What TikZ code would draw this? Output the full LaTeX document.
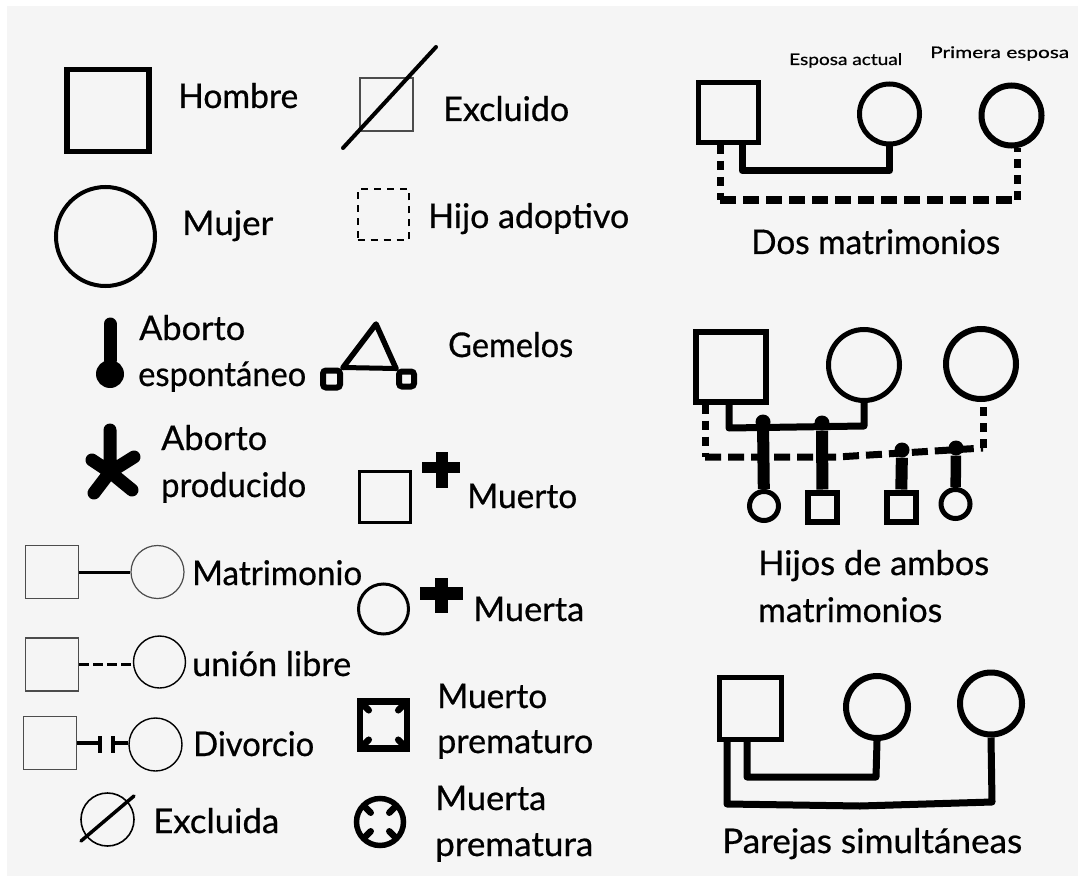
\documentclass[tikz,border=0pt]{standalone}
\usepackage{fontspec}
\usepackage{graphicx}
\usetikzlibrary{calc}
\setmainfont[FakeBold=0.6]{Lato}
\newcommand\wt[2]{\resizebox{#1pt}{\height}{#2}}
\begin{document}
\begin{tikzpicture}[x=1pt,y=-1pt,
  lab/.style={anchor=base west,inner sep=0pt,font=\fontsize{34}{34}\selectfont,text=black},
  small/.style={anchor=base west,inner sep=0pt,font=\fontsize{16}{16}\selectfont},
  sq/.style={draw=black,rectangle,inner sep=0pt,minimum size=#1},
  ci/.style={draw=black,circle,inner sep=0pt,minimum size=#1},
  thin1/.style={line width=1.2pt,draw=black!70},
  link/.style={line width=7pt,line join=round},
  dlink/.style={line width=7pt,dash pattern=on 16pt off 7pt,line join=miter},
  dvert/.style={line width=7pt,dash pattern=on 9pt off 7pt},
  stem/.style={line width=12pt},
  dot/.style={fill=black,circle,inner sep=0pt,minimum size=15pt},
  blob/.style={line width=13pt,line cap=round,line join=round},
  tick/.style={line width=6.5pt,line cap=round}]
\useasboundingbox (0,0) rectangle (1078,877);
\fill[white] (0,0) rectangle (1078,877);
\fill[black!4] (7,6) rectangle (1078,876);
% left column
\node[sq=82pt,line width=5.5pt] (hombre) at (108,110.5) {};
\node[lab] (thombre) at (178,108) {\wt{120}{Hombre}};
\node[ci=99pt,line width=4pt] (mujer) at (105.5,236.5) {};
\node[lab] (tmujer) at (182,235) {\wt{91}{Mujer}};
% abortions
\node[dot,minimum size=28pt] (ae) at (110,374) {};
\coordinate (aet) at (110,324);
\draw[blob] (aet) -- (ae);
\node[lab] (tae1) at (139,340) {\wt{106}{Aborto}};
\node[lab] (tae2) at (138,386) {\wt{168}{espontáneo}};
\coordinate (ap) at (110,472);
\coordinate (apt) at (110,430);
\coordinate (ap1) at (92,460);
\coordinate (ap2) at (134,457);
\coordinate (ap3) at (94,493);
\coordinate (ap4) at (132,490);
\draw[blob] (apt) -- (ap) (ap1) -- (ap) (ap2) -- (ap) (ap3) -- (ap) (ap4) -- (ap);
\node[lab] (tap1) at (161,450) {\wt{106}{Aborto}};
\node[lab] (tap2) at (161,497) {\wt{145}{producido}};
% couples
\node[sq=53pt,thin1] (m1) at (52,572) {};
\node[ci=53pt,thin1] (m2) at (157.5,572) {};
\draw[line width=3pt] (m1) -- (m2);
\node[lab] (tm) at (192,585) {\wt{170}{Matrimonio}};
\node[sq=53pt,thin1] (u1) at (52,664.5) {};
\node[ci=52pt,line width=1.4pt,draw=black] (u2) at (159.5,662) {};
\coordinate (um) at (100,664);
\draw[line width=3pt,dash pattern=on 10pt off 4pt] (u1.east |- um) -- (u2.west |- um);
\node[lab] (tu) at (192,676) {\wt{159}{unión libre}};
\node[sq=53pt,thin1] (d1) at (50,743) {};
\node[ci=53pt,line width=1.4pt,draw=black] (d2) at (155.5,744.5) {};
\coordinate (dm1) at (100,743);
\coordinate (dm2) at (113,743);
\draw[line width=3.5pt] (d1.east |- dm1) -- (dm1) (dm2) -- (d2.west |- dm2);
\draw[line width=4.5pt] (100,736) -- (dm1) -- (100,753) (113,736) -- (dm2) -- (113,753);
\node[lab] (td) at (193,756) {\wt{121}{Divorcio}};
\node[ci=53pt,line width=1.6pt] (ex) at (107.5,819.5) {};
\coordinate (ex1) at (81,841);
\coordinate (ex2) at (134,796);
\draw[line width=3.5pt,line cap=round] (ex1) -- (ex2);
\node[lab] (tex) at (153,833) {\wt{126}{Excluida}};
% middle column
\node[sq=53pt,thin1] (xo) at (386.5,104.5) {};
\coordinate (xo1) at (343,148);
\coordinate (xo2) at (436,47);
\draw[line width=4pt,line cap=round] (xo1) -- (xo2);
\node[lab] (txo) at (443,121) {\wt{126}{Excluido}};
\node[sq=51pt,line width=2pt,dash pattern=on 7pt off 6pt] (ha) at (383,215) {};
\node[lab] (tha) at (428,228) {\wt{201}{Hijo adoptivo}};
% twins
\coordinate (gt) at (376,324);
\node[sq=17pt,line width=6pt,rounded corners=3pt] (g1) at (331.5,379) {};
\node[sq=15pt,line width=6pt,rounded corners=3pt] (g2) at (406.5,379) {};
\draw[line width=5.5pt,line join=round,line cap=round] (g1.north east) -- (gt) -- (g2.north west);
\draw[line width=5pt] (g1.north east) -- (g2.north west);
\node[lab] (tg) at (448,357) {\wt{125}{Gemelos}};
% deaths
\node[sq=51pt,line width=3.5pt] (mo) at (385,497) {};
\coordinate (mo1) at (422,467.5);
\coordinate (mo2) at (460,467.5);
\coordinate (mo3) at (442,452);
\coordinate (mo4) at (442,488);
\draw[line width=11.5pt] (mo1) -- (mo2) (mo3) -- (mo4);
\node[lab] (tmo) at (467,508) {\wt{110}{Muerto}};
\node[ci=50pt,line width=3pt] (ma) at (383.5,609) {};
\coordinate (ma1) at (420,593.5);
\coordinate (ma2) at (463,593.5);
\coordinate (ma3) at (441.5,578);
\coordinate (ma4) at (441.5,613);
\draw[line width=13pt] (ma1) -- (ma2) (ma3) -- (ma4);
\node[lab] (tma) at (473,621) {\wt{111}{Muerta}};
\node[sq=47pt,line width=6.5pt] (mp) at (383.5,725) {};
\draw[tick] ($(mp.center)!0.85!(mp.north west)$) -- ($(mp.center)!0.55!(mp.north west)$)
  ($(mp.center)!0.85!(mp.north east)$) -- ($(mp.center)!0.55!(mp.north east)$)
  ($(mp.center)!0.85!(mp.south west)$) -- ($(mp.center)!0.55!(mp.south west)$)
  ($(mp.center)!0.85!(mp.south east)$) -- ($(mp.center)!0.55!(mp.south east)$);
\node[lab] (tmp1) at (437,708) {\wt{110}{Muerto}};
\node[lab] (tmp2) at (437,753) {\wt{156}{prematuro}};
\node[ci=47pt,line width=5.5pt] (fp) at (380,822) {};
\draw[tick] ($(fp.center)!0.85!(fp.north west)$) -- ($(fp.center)!0.5!(fp.north west)$)
  ($(fp.center)!0.85!(fp.north east)$) -- ($(fp.center)!0.5!(fp.north east)$)
  ($(fp.center)!0.85!(fp.south west)$) -- ($(fp.center)!0.5!(fp.south west)$)
  ($(fp.center)!0.85!(fp.south east)$) -- ($(fp.center)!0.5!(fp.south east)$);
\node[lab] (tfp1) at (435,810) {\wt{111}{Muerta}};
\node[lab] (tfp2) at (435,856) {\wt{158}{prematura}};
% Dos matrimonios
\node[sq=60pt,line width=5pt] (a0) at (728.5,112.5) {};
\node[ci=60pt,line width=5pt] (a1) at (889.5,114) {};
\node[ci=60pt,line width=6pt] (a2) at (1011.5,115.5) {};
\coordinate (aj1) at (742,170.5);
\coordinate (aj2) at (720,200);
\coordinate (aj3) at (1017,200);
\draw[link] (a0.south -| aj1) -- (aj1) -| (a1.south);
\draw[dvert] (a0.south -| aj2) -- (aj2);
\draw[dlink,line width=8pt] (aj2) -- (aj3);
\draw[dvert] (aj3) -- (aj3 |- a2.south);
\node[small] (ta1) at (789,65) {\wt{113}{Esposa actual}};
\node[small] (ta2) at (930,58) {\wt{139}{Primera esposa}};
\node[lab] (ta3) at (751,254) {\wt{249}{Dos matrimonios}};
% Hijos
\node[sq=70pt,line width=6pt] (b0) at (731,366.5) {};
\node[ci=71pt,line width=5pt] (b1) at (864,365) {};
\node[ci=70pt,line width=6pt] (b2) at (981,364) {};
\coordinate (bj1) at (729,428);
\coordinate (bj2) at (864,426);
\coordinate (bj3) at (705,457);
\coordinate (bj4) at (837,457);
\coordinate (bj5) at (983,448);
\draw[link] (b0.south -| bj1) -- (bj1) -- (bj2) -- (b1.south);
\draw[dvert] (b0.south -| bj3) -- (bj3);
\draw[dlink] (bj3) -- (bj4) -- (bj5);
\draw[dvert] (bj5) -- (bj5 |- b2.south);
\node[ci=29pt,line width=5pt] (k1) at (764,506) {};
\node[sq=29pt,line width=6pt] (k2) at (822.5,507) {};
\node[sq=29pt,line width=6pt] (k3) at (901,507) {};
\node[ci=29pt,line width=5pt] (k4) at (955.5,504) {};
\node[dot] (j1) at (763,422) {};
\node[dot] (j2) at (822,423) {};
\node[dot] (j3) at (902,450) {};
\node[dot] (j4) at (956,448) {};
\draw[stem] (j1) -- (k1);
\draw[stem] (j2) -- (k2);
\draw[stem] (j3) -- (k3);
\draw[stem,line width=10.5pt] (j4) -- (k4);
\node[lab] (tb1) at (758,575) {\wt{231}{Hijos de ambos}};
\node[lab] (tb2) at (758,622) {\wt{184}{matrimonios}};
% Parejas
\node[sq=62pt,line width=5pt] (c0) at (750.5,708) {};
\node[ci=62pt,line width=6pt] (c1) at (877,707) {};
\node[ci=62pt,line width=6pt] (c2) at (991,703.5) {};
\coordinate (cj1) at (747,777);
\coordinate (cj2) at (876,777);
\coordinate (cj3) at (727,804);
\coordinate (cj4) at (860,806);
\coordinate (cj5) at (992,802);
\draw[link] (c0.south -| cj1) -- (cj1) -- (cj2) -- (c1.south);
\draw[link] (c0.south -| cj3) -- (cj3) -- (cj4) -- (cj5) -- (c2.south);
\node[lab] (tc) at (722,853) {\wt{300}{Parejas simultáneas}};
\end{tikzpicture}
\end{document}
